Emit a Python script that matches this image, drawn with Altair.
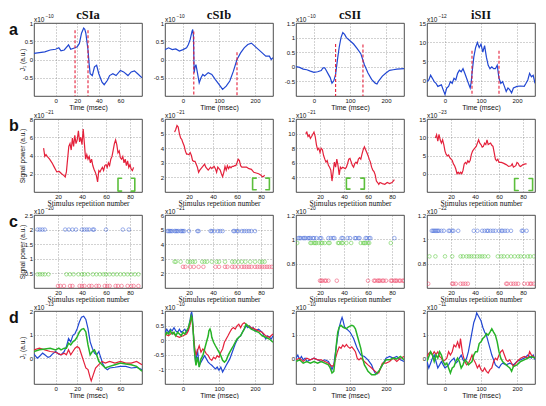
import altair as alt
import pandas as pd

# ---------------- layout / style ----------------
W, H = 108, 73
SANS = "Liberation Sans"
SERIF = "Liberation Serif"
BLUE, RED, GREEN = "#2147d2", "#e4213b", "#27b327"
DOT_B, DOT_G, DOT_R = "#4d70dc", "#5fcc42", "#f0476a"
BRACKET = "#5cbf3c"

COL_TITLES = ["cSIa", "cSIb", "cSII", "iSII"]
ROW_LETTERS = ["a", "b", "c", "d"]
EXPONENTS = [["\u221210", "\u221210", "\u221210", "\u221212"],
             ["\u221221", "\u221221", "\u221221", "\u221223"],
             ["\u221220", "\u221221", "\u221220", "\u221222"],
             ["\u221213", "\u221210", "\u221210", "\u221211"]]

TIME_DOM = [[-20, 80], [-50, 250], [-50, 250], [-50, 250]]
TIME_TICKS = [[0, 20, 40, 60], [0, 100, 200], [0, 100, 200], [0, 100, 200]]
REP_DOM = [0, 90]
REP_TICKS = [20, 40, 60, 80]

# ---------------- row a : J1 time courses ----------------
A_YDOM = [[-1, 1], [-1, 1], [-1, 1.5], [-4, 15]]
A_YTICKS = [[-0.5, 0, 0.5, 1], [-0.5, 0, 0.5, 1], [-0.5, 0, 0.5, 1, 1.5], [0, 5, 10, 15]]
A_T = [
    [-20, -15, -10, -5, 0, 3, 5, 8, 12, 14, 18, 20, 22, 24, 26, 27, 28, 30, 31, 32, 34, 36, 38, 40,
     43, 45, 48, 50, 53, 56, 60, 63, 67, 70, 73, 76, 80],
    [-50, -40, -30, -20, -10, 0, 10, 15, 20, 25, 27, 29, 31, 33, 36, 40, 45, 50, 55, 60, 70, 80, 90,
     100, 110, 120, 130, 140, 150, 160, 170, 180, 190, 200, 210, 220, 230, 240, 245, 250],
    [-50, -40, -30, -20, -10, 0, 10, 20, 25, 30, 33, 40, 45, 50, 55, 60, 65, 70, 75, 80, 85, 90, 100,
     110, 120, 130, 140, 150, 160, 170, 175, 180, 190, 200, 210, 220, 230, 240, 250],
    [-50, -45, -40, -35, -30, -25, -20, -10, -5, 0, 5, 10, 15, 20, 25, 30, 35, 40, 45, 50, 55, 60, 65,
     70, 73, 75, 80, 85, 90, 95, 100, 105, 110, 115, 120, 125, 130, 135, 140, 145, 150, 155, 160, 165,
     170, 175, 180, 185, 190, 200, 210, 220, 225, 230, 235, 240, 245, 250],
]
A_V = [
    [0.17, 0.19, 0.21, 0.26, 0.28, 0.32, 0.24, 0.26, 0.40, 0.28, 0.32, 0.35, 0.44, 0.72, 0.86, 0.83,
     0.72, 0.26, -0.11, -0.39, -0.44, -0.20, -0.16, -0.39, -0.62, -0.69, -0.57, -0.44, -0.39, -0.44,
     -0.30, -0.34, -0.44, -0.34, -0.31, -0.39, -0.50],
    [0.27, 0.32, 0.27, 0.29, 0.23, 0.27, 0.32, 0.41, 0.55, 0.77, 0.82, 0.64, -0.36, -0.23, -0.14, -0.36,
     -0.64, -0.50, -0.41, -0.45, -0.36, -0.41, -0.55, -0.68, -0.82, -0.73, -0.59, -0.32, 0.0, 0.18,
     0.32, 0.41, 0.45, 0.36, 0.27, 0.18, 0.09, 0.09, 0.0, 0.05],
    [0.01, -0.02, -0.08, -0.10, -0.15, -0.19, -0.17, -0.13, -0.04, -0.04, -0.10, -0.26, -0.37, -0.56,
     -0.48, -0.26, 0.23, 0.67, 1.0, 1.17, 1.11, 1.0, 0.89, 0.78, 0.62, 0.45, 0.07, -0.21, -0.43, -0.56,
     -0.59, -0.48, -0.32, -0.21, -0.12, -0.10, -0.08, -0.07, -0.06],
    [-0.25, 0.17, 1.4, 0.6, -0.25, -0.7, -1.5, -1.1, -2.4, -3.6, -1.9, -1.5, -0.25, -0.7, 0.6, 0.17,
     1.9, 2.7, 2.3, 3.1, 1.9, 0.6, -0.7, -1.9, -0.25, 1.9, 6.1, 8.6, 9.9, 8.6, 9.5, 7.4, 9.1, 6.1, 4.0,
     3.1, 3.6, 3.1, 3.1, 4.0, 0.6, -0.7, -0.25, -1.5, -2.8, -1.9, -2.4, -3.2, -1.9, -1.5, -1.4, -1.5,
     -0.7, 0.17, 1.9, 1.0, 1.4, -0.7],
]
A_DASH_T = [[18, 30], [30, 150], [60, 136], [75, 150]]
A_DASH_TOP = [[0.8, 0.8], [0.77, 0.2], [0.78, 0.76], [7.8, 7.8]]

# ---------------- row b : signal power vs repetition ----------------
B_YDOM = [[0, 8], [1, 6], [2, 12], [-5, 15]]
B_YTICKS = [[2, 4, 6, 8], [2, 3, 4, 5, 6], [4, 6, 8, 10, 12], [0, 5, 10, 15]]
B_T = [
    [8, 9, 10, 11, 13, 15, 17, 19, 21, 23, 25, 26, 27, 28, 29, 30, 31, 32, 33, 34, 35, 36, 37, 38, 39,
     40, 41, 42, 43, 44, 45, 46, 47, 48, 49, 50, 51, 52, 53, 54, 55, 56, 57, 58, 59, 60, 61, 62, 63,
     64, 65, 66, 67, 68, 69, 70, 71, 72, 73, 74, 75, 76, 77, 78, 79, 80, 81, 82, 83],
    [8, 9, 10, 11, 12, 13, 14, 15, 16, 17, 18, 19, 20, 21, 22, 23, 24, 25, 26, 27, 28, 29, 30, 31, 32,
     33, 34, 35, 36, 37, 38, 39, 40, 41, 42, 43, 44, 45, 46, 47, 48, 49, 50, 51, 52, 53, 54, 55, 56,
     57, 58, 59, 60, 61, 62, 63, 64, 66, 68, 70, 72, 74, 76, 78, 80, 81, 82, 83],
    [8, 9, 10, 11, 12, 13, 14, 15, 16, 17, 18, 19, 20, 21, 22, 23, 24, 25, 26, 27, 28, 29, 30, 31, 32,
     33, 34, 35, 36, 37, 38, 39, 40, 41, 42, 43, 44, 45, 46, 47, 48, 49, 50, 51, 52, 53, 54, 55, 56,
     57, 58, 59, 60, 61, 62, 63, 64, 65, 66, 67, 68, 69, 70, 72, 74, 76, 78, 80, 81, 82],
    [7, 8, 9, 10, 11, 12, 13, 14, 15, 16, 17, 18, 19, 20, 21, 22, 23, 24, 25, 26, 27, 28, 29, 30, 31,
     32, 33, 34, 35, 36, 37, 38, 39, 40, 41, 42, 43, 44, 45, 46, 47, 48, 49, 50, 51, 52, 53, 54, 55,
     56, 57, 58, 59, 60, 62, 64, 66, 68, 70, 71, 72, 74, 75, 76, 77, 78, 80, 82, 83],
]
B_V = [
    [4.8, 3.9, 4.1, 3.9, 3.6, 3.2, 2.7, 2.2, 2.25, 2.0, 1.8, 1.65, 2.2,
     3.6, 5.0, 5.3, 4.6, 5.9, 5.0, 6.2, 5.3, 5.7, 6.7,
     5.5, 6.0, 5.2, 6.9, 5.3, 3.6, 4.1, 3.6, 3.9, 3.2,
     3.6, 2.9, 2.5, 2.2, 1.8, 1.1, 2.35, 2.2, 2.5, 2.7,
     2.35, 2.9, 3.0, 2.7, 3.2, 2.9, 3.6, 3.9, 4.6, 5.3,
     5.7, 5.2, 4.3, 4.5, 3.75, 3.6, 3.9, 3.2, 3.6, 2.9,
     3.4, 2.7, 3.0, 2.5, 2.35, 2.7],
    [5.1, 5.3, 5.55, 5.45, 5.0, 4.7, 4.6, 4.35, 4.15, 3.8,
     3.6, 3.6, 3.55, 3.7, 3.5, 3.15, 3.1, 3.1, 2.9, 2.7,
     2.35, 2.5, 2.6, 2.7, 2.8, 2.9, 2.7, 2.6, 2.5, 2.6,
     2.7, 2.6, 2.7, 2.75, 2.6, 2.35, 2.7, 2.6, 2.5, 2.25,
     2.05, 2.35, 2.75, 2.5, 2.8, 2.6, 2.75, 2.65, 2.75, 2.75,
     2.8, 2.8, 3.0, 3.25, 3.15, 2.8, 2.7,
     2.7, 2.7, 2.6, 2.55, 2.35, 2.3, 2.25, 2.15, 2.05, 2.05, 2.15],
    [10.0, 10.2, 9.6, 9.8, 9.35, 9.6, 9.9, 10.2, 9.6, 8.5,
     7.8, 8.0, 7.4, 8.0, 7.8, 7.0, 6.5, 6.1, 6.3, 5.65,
     5.4, 5.0, 3.5, 4.8, 6.1, 5.4, 6.5, 5.65, 4.35, 5.4,
     5.2, 5.4, 5.3, 5.2, 5.4, 5.9, 6.5, 6.6, 6.1, 5.65,
     5.4, 5.9, 6.1, 5.9, 6.5, 6.7, 6.5, 7.2, 7.8, 8.2,
     7.8, 7.4, 7.0, 6.5, 6.1, 5.4, 5.0, 4.8, 4.35, 3.5,
     3.3, 3.05, 3.3, 3.15, 3.05, 3.3, 3.15, 3.3, 3.5, 3.7],
    [9.8, 10.7, 8.9, 10.8, 9.3, 8.4, 9.3, 8.0, 6.2, 5.3,
     4.9, 5.15, 4.4, 4.0, 3.7, 2.7, 2.2, 1.3, 0.0, 0.4,
     0.0, 0.4, 0.0, 0.9, 2.7, 3.1, 2.7, 3.55, 3.1, 3.7,
     5.3, 6.2, 6.7, 7.1, 7.5, 8.4, 9.3, 8.4, 8.0, 7.3,
     7.5, 8.4, 8.0, 9.3, 8.0, 8.2, 8.4, 7.8, 7.5, 5.8,
     4.0, 3.55, 4.0, 3.1,
     3.1, 2.85, 2.5, 2.0, 2.2, 2.7, 1.8, 2.2, 3.1, 2.85, 2.2, 2.0, 2.5, 2.7, 2.7],
]
BR_X0 = [70, 73, 42, 73]
BR_X1 = [84, 87, 57, 88]
BR_Y0 = [0.1, 1.15, 2.4, -4.6]
BR_Y1 = [1.5, 1.95, 3.9, -1.3]
BR_ARM = 3

# ---------------- row c : classified trials ----------------
C_YDOM = [[0, 2.5], [1, 6], [0.6, 1.2], [0.6, 1.2]]
C_YTICKS = [[0.5, 1, 1.5, 2, 2.5], [2, 3, 4, 5, 6], [0.8, 1, 1.2], [0.8, 1, 1.2]]
C_LEVELS = [[2.0, 0.47, 0.07], [4.9, 2.8, 2.45], [1.01, 0.97, 0.66], [1.07, 0.86, 0.635]]
C_BLUE = [
    [3, 5, 7, 9, 26, 29, 32, 35, 40, 42, 44, 46, 49, 50, 60, 74, 79],
    [2, 3, 4, 5, 6, 8, 9, 10, 11, 13, 14, 15, 16, 20, 27, 28, 38, 39, 41, 44, 46, 48, 57, 58, 60, 61,
     64, 66, 68, 70, 72, 75],
    [2, 3, 4, 6, 7, 8, 10, 11, 12, 14, 15, 17, 20, 21, 27, 29, 31, 32, 38, 39, 43, 45, 49, 50, 52, 53,
     58, 59, 61, 62, 82],
    [4, 5, 6, 7, 8, 9, 10, 12, 14, 18, 19, 21, 22, 26, 39, 42, 46, 48, 50, 51, 53, 55, 57, 60, 62, 63,
     65, 67, 70, 79, 80, 83],
]
C_GREEN = [
    [3, 5, 7, 9, 12, 27, 30, 33, 37, 40, 42, 45, 49, 52, 55, 58, 60, 63, 66, 69, 72, 75, 78, 81, 84, 87],
    [8, 9, 13, 19, 21, 23, 25, 31, 33, 35, 39, 43, 45, 50, 56, 58, 61, 64, 67, 71, 75, 79, 81, 83],
    [1, 12, 13, 15, 16, 17, 19, 21, 22, 24, 27, 28, 35, 36, 38, 39, 42, 46, 54, 56, 57, 58, 60, 61, 79],
    [2, 7, 15, 21, 28, 30, 33, 35, 37, 39, 42, 44, 46, 48, 51, 59, 62, 64, 67, 70, 73, 76, 78, 81, 84,
     86, 89],
]
C_RED = [
    [20, 22, 25, 30, 32, 38, 40, 42, 46, 48, 52, 54, 59, 61, 63, 68, 70, 73, 78, 81, 83, 87],
    [15, 17, 21, 24, 28, 32, 42, 45, 50, 52, 56, 58, 61, 64, 66, 68, 70, 72, 75, 77, 79, 81, 83, 85,
     87, 89],
    [20, 21, 22, 24, 25, 27, 34, 60, 65, 66, 68, 69, 70, 72, 73, 75, 79, 80, 82, 83, 84, 86, 87, 89, 90],
    [1, 21, 22, 24, 28, 30, 32, 34, 66, 67, 70, 72, 74, 76, 81, 84, 86, 87, 89],
]

# ---------------- row d : J1 per class ----------------
D_YDOM = [[-1.1, 2], [-1.5, 1], [-1.05, 2], [-1.05, 2]]
D_YTICKS = [[0, 1, 2], [-1, -0.5, 0, 0.5, 1], [0, 1, 2], [0, 1, 2]]
D_BLUE_T = [
    [-20, -17, -15, -12, -10, -7, -5, -3, 0, 3, 5, 8, 10, 12, 14, 16, 18, 20, 22, 24, 26, 28, 30, 32,
     34, 36, 38, 40, 42, 44, 46, 48, 50, 55, 60, 65, 70, 75, 80],
    [-50, -45, -40, -35, -30, -25, -20, -15, -10, -5, 0, 5, 10, 15, 18, 20, 22, 24, 26, 28, 30, 32, 35,
     38, 40, 43, 45, 50, 55, 60, 65, 70, 75, 80, 85, 90, 95, 100, 105, 110, 115, 120, 125, 130, 135,
     140, 145, 150, 155, 160, 165, 170, 175, 180, 185, 190, 195, 200, 210, 220, 225, 230, 235, 240,
     245, 250],
    [-50, -45, -40, -35, -30, -25, -20, -10, 0, 10, 20, 30, 40, 45, 50, 55, 60, 65, 70, 75, 78, 80, 85,
     90, 95, 100, 105, 110, 115, 120, 125, 130, 140, 150, 160, 165, 170, 175, 180, 190, 200, 210, 220,
     230, 240, 250],
    [-50, -45, -40, -35, -30, -25, -20, -15, -10, -5, 0, 5, 10, 15, 20, 25, 30, 35, 40, 45, 50, 55, 60,
     65, 70, 75, 80, 85, 88, 92, 95, 100, 105, 110, 115, 120, 125, 130, 135, 140, 145, 150, 155, 160,
     170, 180, 190, 200, 210, 220, 230, 235, 240, 245, 250],
]
D_BLUE_V = [
    [0.17, 0, 0.07, 0.21, 0.14, 0.03, 0.07, 0.17, 0.28, 0.17, 0.14, 0.28, 0.49, 0.83, 0.69, 0.97, 1.04,
     1.25, 1.53, 1.74, 1.78, 1.64, 1.25, 0.69, 0.42, 0.21, 0.14, 0.28, 0, -0.28, -0.42, -0.49, -0.42,
     -0.39, -0.35, -0.35, -0.42, -0.39, -0.49],
    [0.27, 0.38, 0.27, 0.38, 0.32, 0.43, 0.32, 0.27, 0.38, 0.27, 0.32, 0.38, 0.27, 0.38, 0.6, 0.72,
     0.89, 0.97, 0.83, 0.38, 0.04, -0.41, -0.75, -0.53, -0.3, -0.64, -0.86, -0.75, -0.64, -0.53, -0.64,
     -0.75, -0.81, -0.86, -0.92, -0.98, -0.92, -1.03, -0.92, -1.09, -0.98, -0.86, -0.75, -0.64, -0.47,
     -0.3, -0.13, 0, 0.1, 0.15, 0.27, 0.38, 0.49, 0.43, 0.49, 0.38, 0.43, 0.32, 0.38, 0.27, 0.15, 0.04,
     0.15, 0.1, 0.04, 0.15],
    [0.03, 0.16, -0.04, 0.1, -0.04, 0.03, -0.11, -0.04, 0.03, -0.04, -0.11, -0.04, -0.11, -0.25, -0.45,
     -0.25, 0.3, 0.85, 1.32, 1.6, 1.73, 1.64, 1.33, 1.26, 1.19, 1.12, 0.99, 0.85, 0.64, 0.44, 0.3, 0.16,
     0.1, -0.04, -0.25, -0.45, -0.59, -0.63, -0.52, -0.25, 0.03, 0.1, 0.03, 0.1, -0.04, -0.11],
    [-0.11, -0.38, -0.18, 0.03, 0.16, -0.11, -0.38, -0.25, -0.11, -0.25, -0.38, -0.32, -0.25, -0.11,
     -0.04, 0.03, -0.18, -0.11, 0.03, 0.16, -0.04, -0.11, 0.03, 0.3, 0.71, 1.12, 1.52, 1.73, 1.92, 1.81,
     1.73, 1.59, 1.32, 1.12, 0.99, 0.71, 0.44, 0.16, -0.04, -0.25, -0.32, -0.38, -0.25, -0.18, -0.25,
     -0.18, -0.25, -0.11, -0.04, 0.03, 0.16, 0.1, 0.03, 0.16, -0.04],
]
D_GREEN_T = [
    [-20, -15, -10, -5, 0, 3, 5, 8, 10, 12, 14, 16, 18, 20, 22, 24, 26, 28, 30, 32, 34, 36, 38, 40, 43,
     46, 50, 55, 60, 65, 70, 75, 80],
    [-50, -45, -40, -35, -30, -25, -20, -15, -10, -5, 0, 5, 10, 15, 20, 23, 25, 28, 30, 33, 36, 38, 40,
     43, 45, 47, 50, 55, 60, 65, 70, 72, 75, 78, 80, 85, 90, 95, 100, 105, 110, 115, 120, 125, 130,
     135, 140, 145, 150, 155, 160, 165, 170, 175, 180, 185, 190, 200, 210, 220, 230, 240, 250],
    [-50, -40, -30, -20, -10, 0, 10, 20, 30, 40, 45, 50, 55, 58, 62, 66, 70, 75, 80, 85, 90, 95, 100,
     105, 110, 115, 120, 125, 130, 135, 140, 145, 150, 155, 160, 170, 180, 190, 200, 210, 220, 230,
     240, 250],
    [-50, -45, -40, -35, -30, -25, -20, -15, -10, -5, 0, 5, 10, 15, 20, 25, 30, 35, 40, 45, 50, 55, 60,
     65, 70, 75, 80, 85, 90, 95, 100, 105, 110, 115, 120, 125, 130, 135, 140, 145, 150, 155, 160, 165,
     170, 175, 180, 185, 190, 200, 210, 220, 230, 240, 250],
]
D_GREEN_V = [
    [0.28, 0.35, 0.39, 0.42, 0.35, 0.42, 0.35, 0.42, 0.42, 0.63, 0.56, 0.69, 0.76, 0.9, 1.11, 1.22,
     1.25, 1.11, 0.56, 0.14, 0.28, 0.35, 0.14, -0.14, -0.28, -0.42, -0.35, -0.28, -0.21, -0.25, -0.28,
     -0.35, -0.56],
    [0.15, 0.27, 0.21, 0.32, 0.21, 0.27, 0.15, 0.27, 0.21, 0.15, 0.27, 0.21, 0.32, 0.43, 0.66, 0.83,
     0.77, 0.38, -0.07, -0.53, -0.86, -0.75, -0.58, -0.75, -0.92, -0.81, -0.64, -0.53, -0.3, -0.07,
     0.15, 0.32, 0.38, 0.27, 0.1, -0.07, -0.19, -0.3, -0.41, -0.53, -0.69, -0.75, -0.69, -0.53, -0.41,
     -0.3, -0.19, -0.07, 0.04, 0.1, 0.15, 0.27, 0.38, 0.55, 0.49, 0.43, 0.38, 0.32, 0.27, 0.15, 0.1,
     0.04, -0.07],
    [-0.11, -0.04, -0.18, -0.11, -0.18, -0.11, -0.18, -0.11, -0.18, -0.25, -0.38, -0.59, -0.52, -0.11,
     0.58, 1.12, 1.32, 1.4, 1.33, 1.29, 1.26, 1.33, 1.37, 1.4, 1.37, 1.26, 0.99, 0.71, 0.44, 0.03,
     -0.25, -0.38, -0.52, -0.59, -0.66, -0.66, -0.52, -0.25, -0.04, -0.04, 0.03, 0, 0.1, -0.04],
    [-0.11, 0.1, 0.3, 0.16, -0.11, 0.16, 0.03, 0.3, 0.16, -0.11, -0.25, -0.18, -0.38, -0.59, -0.38,
     -0.32, -0.11, 0.03, -0.11, -0.38, -0.25, -0.04, -0.11, -0.25, -0.18, -0.11, 0.16, 0.3, 0.3, 0.64,
     0.71, 0.85, 0.92, 1.05, 0.99, 1.12, 1.26, 1.12, 0.99, 0.71, 0.3, 0.03, -0.11, -0.18, -0.25, -0.32,
     -0.38, -0.52, -0.32, -0.25, -0.11, -0.04, 0.03, 0.1, 0.03],
]
D_RED_T = [
    [-20, -15, -10, -5, 0, 5, 8, 10, 12, 14, 16, 18, 20, 22, 24, 26, 28, 30, 32, 33, 35, 37, 40, 43,
     46, 50, 55, 60, 65, 70, 75, 80],
    [-50, -40, -30, -20, -10, 0, 10, 15, 20, 24, 28, 30, 33, 36, 40, 45, 50, 55, 60, 65, 70, 75, 80,
     85, 90, 95, 100, 105, 110, 115, 120, 125, 130, 135, 140, 145, 150, 155, 160, 165, 170, 175, 180,
     190, 200, 210, 220, 230, 240, 250],
    [-50, -40, -30, -20, -10, 0, 10, 20, 30, 40, 50, 55, 60, 65, 70, 75, 80, 85, 90, 95, 100, 105, 110,
     115, 120, 125, 130, 140, 150, 160, 170, 175, 180, 185, 190, 200, 210, 220, 230, 240, 250],
    [-50, -45, -40, -35, -30, -25, -20, -15, -10, -5, 0, 5, 10, 15, 20, 25, 30, 35, 40, 43, 45, 48, 50,
     55, 60, 65, 70, 75, 80, 85, 90, 95, 100, 105, 110, 115, 120, 125, 130, 135, 140, 145, 150, 155,
     160, 165, 170, 175, 180, 185, 190, 200, 210, 220, 230, 235, 240, 250],
]
D_RED_V = [
    [0.35, 0.42, 0.35, 0.28, 0.25, 0.14, 0.21, 0.14, 0.35, 0.14, 0.28, 0.42, 0.49, 0.42, 0.14, -0.14,
     -0.42, -0.49, -0.83, -0.97, -0.69, -0.42, -0.28, -0.14, -0.21, -0.14, -0.21, -0.14, -0.21, -0.21,
     -0.14, -0.28],
    [0.21, 0.15, 0.27, 0.15, 0.1, 0.15, 0.21, 0.32, 0.55, 0.83, 0.43, 0.04, -0.3, -0.52, -0.36, -0.19,
     -0.41, -0.3, -0.36, -0.47, -0.52, -0.64, -0.69, -0.58, -0.64, -0.53, -0.58, -0.41, -0.3, -0.07,
     0.04, 0.15, 0.27, 0.38, 0.43, 0.38, 0.49, 0.55, 0.43, 0.55, 0.6, 0.55, 0.49, 0.43, 0.38, 0.32,
     0.27, 0.15, 0.1, 0.21],
    [-0.04, 0.03, -0.11, 0.03, -0.04, 0.03, -0.04, -0.04, -0.11, -0.18, -0.32, -0.25, 0.03, 0.3, 0.5,
     0.44, 0.58, 0.5, 0.6, 0.5, 0.44, 0.5, 0.41, 0.3, 0.03, -0.04, 0.03, -0.11, -0.25, -0.38, -0.52,
     -0.59, -0.59, -0.38, -0.18, -0.18, -0.11, 0.03, -0.11, 0.03, 0.1],
    [0.1, 0.23, 0.3, 0.16, 0.3, 0.19, 0.3, 0.1, 0.03, -0.11, -0.04, 0.03, 0.3, 0.16, 0.3, 0.58, 0.5,
     0.71, 0.44, 0.85, 0.64, 0.3, 0.16, -0.11, -0.25, -0.18, -0.04, 0.16, -0.04, -0.18, -0.38, -0.25,
     -0.45, -0.52, -0.38, -0.52, -0.59, -0.45, -0.38, -0.11, 0.03, -0.04, 0.16, 0.3, 0.37, 0.16, -0.04,
     -0.11, -0.04, -0.18, -0.32, -0.11, 0.03, 0.1, 0.03, 0.3, 0.16, 0.03],
]

# ---------------- helpers ----------------
LEXPR = "datum.value < 0 ? '-' + format(-datum.value, '~g') : format(datum.value, '~g')"
GRID = dict(grid=True, gridColor="#6a6a6a", gridDash=[1, 2], gridWidth=0.6, ticks=False, domain=False,
            labelFont=SANS, labelFontSize=6, labelColor="#111", labelPadding=1.5,
            labelFlush=False, labelOverlap=False, labelExpr=LEXPR)
ONE = pd.DataFrame({"k": [0]})


def x_axis(ticks, title, font, size):
    return alt.Axis(values=ticks, title=title, titleFont=font, titleFontSize=size,
                    titleFontWeight="normal", titleColor="#111", titleY=7, titleBaseline="top", **GRID)


def y_axis(ticks, title):
    if title:
        return alt.Axis(values=ticks, title=title, titleFont=SANS, titleFontSize=6.5,
                        titleFontWeight="normal", titleColor="#111", titleX=-9, titleY=H / 2,
                        titleAngle=270, titleAlign="center", titleBaseline="bottom", **GRID)
    return alt.Axis(values=ticks, title=None, **GRID)


def txt(text, x, y, size, weight="normal", font=SANS, align="left"):
    return alt.Chart(ONE).mark_text(text=text, font=font, fontSize=size, fontWeight=weight,
                                    align=align, baseline="alphabetic", color="#111").encode(
        x=alt.value(x), y=alt.value(y))


Y_TITLES = ["J\u2081 (a.u.)", "Signal power (a.u.)", "Signal power (a.u.)", "J\u2081 (a.u.)"]


def panel(r, c):
    if r in (0, 3):
        xdom, xticks, xtitle, xfont, xsize = TIME_DOM[c], TIME_TICKS[c], "Time (msec)", SANS, 7
    else:
        xdom, xticks, xtitle, xfont, xsize = REP_DOM, REP_TICKS, "Stimulus repetition number", SERIF, 7.5
    ydom = [A_YDOM, B_YDOM, C_YDOM, D_YDOM][r][c]
    yticks = [A_YTICKS, B_YTICKS, C_YTICKS, D_YTICKS][r][c]
    x = alt.X("t:Q", scale=alt.Scale(domain=xdom, nice=False, zero=False),
              axis=x_axis(xticks, xtitle, xfont, xsize))
    y = alt.Y("v:Q", scale=alt.Scale(domain=ydom, nice=False, zero=False),
              axis=y_axis(yticks, Y_TITLES[r] if c == 0 else None))
    layers = []
    if r == 0:
        df = pd.DataFrame({"t": A_T[c], "v": A_V[c]})
        layers.append(alt.Chart(df).mark_line(color=BLUE, strokeWidth=1.2, clip=True).encode(x=x, y=y))
        dd = pd.DataFrame({"t": A_DASH_T[c], "v": A_DASH_TOP[c], "v2": [ydom[0]] * len(A_DASH_T[c])})
        layers.append(alt.Chart(dd).mark_rule(color=RED, strokeDash=[3, 2], strokeWidth=1.1).encode(
            x=x, y=y, y2="v2:Q"))
    elif r == 1:
        df = pd.DataFrame({"t": B_T[c], "v": B_V[c]})
        layers.append(alt.Chart(df).mark_line(color=RED, strokeWidth=1.2, clip=True).encode(x=x, y=y))
        x0, x1, y0, y1 = BR_X0[c], BR_X1[c], BR_Y0[c], BR_Y1[c]
        bd = pd.DataFrame({
            "t": [x0 + BR_ARM, x0, x0, x0 + BR_ARM, x1 - BR_ARM, x1, x1, x1 - BR_ARM],
            "v": [y1, y1, y0, y0, y1, y1, y0, y0],
            "piece": ["l"] * 4 + ["r"] * 4,
            "o": [0, 1, 2, 3, 0, 1, 2, 3],
        })
        layers.append(alt.Chart(bd).mark_line(color=BRACKET, strokeWidth=1.6, strokeJoin="round",
                                              strokeCap="round").encode(
            x=x, y=y, detail="piece:N", order="o:Q"))
    elif r == 2:
        lv = C_LEVELS[c]
        rows = ([(t, lv[0], "b") for t in C_BLUE[c]] + [(t, lv[1], "g") for t in C_GREEN[c]]
                + [(t, lv[2], "r") for t in C_RED[c]])
        df = pd.DataFrame(rows, columns=["t", "v", "s"])
        layers.append(alt.Chart(df).mark_point(shape="circle", filled=False, size=13, strokeWidth=0.8,
                                               clip=True).encode(
            x=x, y=y,
            color=alt.Color("s:N", scale=alt.Scale(domain=["b", "g", "r"], range=[DOT_B, DOT_G, DOT_R]),
                            legend=None)))
    else:
        for tt, vv, col, sw in [(D_BLUE_T, D_BLUE_V, BLUE, 1.2), (D_RED_T, D_RED_V, RED, 1.2),
                                (D_GREEN_T, D_GREEN_V, GREEN, 1.5)]:
            df = pd.DataFrame({"t": tt[c], "v": vv[c]})
            layers.append(alt.Chart(df).mark_line(color=col, strokeWidth=sw, clip=True).encode(x=x, y=y))
    # exponent label
    layers.append(txt("x10", 0, -1.5, 6.5))
    layers.append(txt(EXPONENTS[r][c], 11.5, -5, 4.8))
    if r == 0:
        layers.append(txt(COL_TITLES[c], W / 2, -4, 12.5, "bold", SERIF, "center"))
    if c == 0:
        layers.append(txt(ROW_LETTERS[r], -25, 12, 16, "bold", SANS))
    return alt.layer(*layers).properties(width=W, height=H)


panels = [panel(r, c) for r in range(4) for c in range(4)]

chart = (
    alt.concat(*panels, columns=4, spacing=23, bounds="flush")
    .resolve_scale(x="independent", y="independent", color="independent")
    .properties(padding=0, background="white")
    .configure_view(stroke="#222", strokeWidth=0.8)
)

chart.save("out.html", embed_options={"renderer": "svg", "actions": False})
